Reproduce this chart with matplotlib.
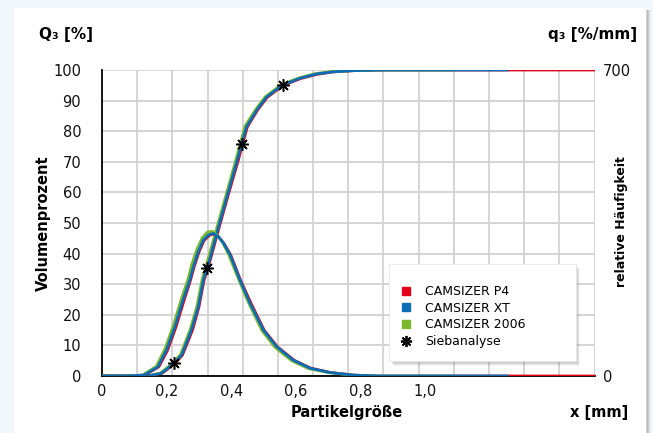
import matplotlib
matplotlib.use("Agg")
import matplotlib.pyplot as plt  # noqa: E402
from matplotlib.lines import Line2D  # noqa: E402
from matplotlib.patches import Rectangle  # noqa: E402

W, H = 653, 433
RED, BLUE, GREEN = "#e2001a", "#0b6db3", "#7cb82f"

# Summenverteilung Q3 [%]
cum_x_blue = [0, 0.108, 0.152, 0.184, 0.223, 0.247, 0.277, 0.298, 0.314, 0.333, 0.361, 0.390, 0.419,
              0.432, 0.448, 0.479, 0.509, 0.559, 0.613, 0.664, 0.715, 0.780, 0.867, 0.975, 1.084, 1.255]
cum_blue = [0, 0, 0.2, 0.9, 4.1, 6.9, 15, 22.6, 31.4, 37.9, 48.8, 59.7, 70.6,
            75.8, 81.5, 86.9, 91.1, 95.1, 97.3, 98.7, 99.4, 99.8, 100, 100, 100, 100]
cum_x_green = [0, 0.108, 0.147, 0.180, 0.219, 0.243, 0.273, 0.294, 0.310, 0.328, 0.357, 0.386, 0.415,
               0.428, 0.443, 0.475, 0.505, 0.555, 0.609, 0.660, 0.711, 0.776, 0.867, 0.975, 1.084]
cum_green = [0, 0, 0.2, 0.9, 4.2, 7.0, 15.2, 22.8, 31.6, 38.1, 49.0, 59.9, 70.8,
             76.0, 81.7, 87.0, 91.2, 95.2, 97.4, 98.8, 99.5, 99.8, 100, 100, 100]
cum_x_red = [0, 0.108, 0.154, 0.186, 0.225, 0.249, 0.280, 0.300, 0.316, 0.335, 0.363, 0.392, 0.422,
             0.435, 0.450, 0.481, 0.511, 0.561, 0.615, 0.666, 0.717, 0.782, 0.867, 0.975, 1.084, 1.3, 1.525]
cum_red = [0, 0, 0.2, 0.9, 4.0, 6.8, 14.9, 22.5, 31.3, 37.8, 48.7, 59.6, 70.5,
           75.7, 81.4, 86.8, 91.0, 95.0, 97.2, 98.6, 99.4, 99.8, 100, 100, 100, 100, 100]

# Dichteverteilung q3 [%/mm]
dens_x_blue = [0, 0.076, 0.130, 0.173, 0.200, 0.226, 0.251, 0.272, 0.283, 0.298, 0.314, 0.330, 0.345, 0.360,
               0.376, 0.397, 0.427, 0.458, 0.500, 0.541, 0.593, 0.644, 0.705, 0.778, 0.851, 0.975, 1.084, 1.255]
dens_blue = [0, 0, 2, 21, 60, 113, 174, 220, 250, 284, 311, 323, 326, 319,
             304, 277, 220, 167, 105, 67, 36, 18, 8, 2, 0, 0, 0, 0]
dens_x_green = [0, 0.076, 0.125, 0.168, 0.195, 0.221, 0.246, 0.267, 0.277, 0.293, 0.310, 0.326, 0.341, 0.357,
                0.373, 0.392, 0.423, 0.454, 0.495, 0.535, 0.587, 0.639, 0.700, 0.774, 0.845, 0.975, 1.084]
dens_green = [0, 0, 2, 22, 62, 116, 177, 223, 253, 288, 316, 329, 331, 322,
              306, 278, 221, 167, 104, 66, 35, 17, 8, 2, 0, 0, 0]
dens_x_red = [0, 0.076, 0.132, 0.176, 0.203, 0.229, 0.254, 0.274, 0.285, 0.300, 0.316, 0.333, 0.347, 0.362,
              0.378, 0.399, 0.429, 0.461, 0.502, 0.543, 0.595, 0.646, 0.708, 0.780, 0.853, 0.975, 1.084, 1.3, 1.525]
dens_red = [0, 0, 2, 21, 59, 112, 173, 219, 249, 283, 310, 322, 325, 318,
            303, 276, 219, 167, 105, 67, 36, 18, 8, 2, 0, 0, 0, 0, 0]

# Siebanalyse
sieve_x = [0.223, 0.324, 0.432, 0.559]
sieve_q3 = [4.1, 35.4, 75.8, 95.1]

x_max = 1.525
x_ticks = [0, 0.2, 0.4, 0.6, 0.8, 1.0]
x_ticklabels = ["0", "0,2", "0,4", "0,6", "0,8", "1,0"]
y_ticks = list(range(0, 101, 10))
legend_labels = ["CAMSIZER P4", "CAMSIZER XT", "CAMSIZER 2006", "Siebanalyse"]

plt.rcParams["font.family"] = ["DejaVu Sans"]
fig = plt.figure(figsize=(W / 100, H / 100), dpi=100, facecolor="#f2f7fb")


def px_rect(x0, y0, x1, y1, z, **kw):
    fig.patches.append(Rectangle((x0 / W, 1 - y1 / H), (x1 - x0) / W, (y1 - y0) / H,
                                 transform=fig.transFigure, figure=fig, zorder=z, **kw))


# white panel with soft shadow on the right
for i, a in enumerate([0.35, 0.25, 0.15, 0.08]):
    px_rect(646 + i, 10, 648 + i, H, -3, facecolor="#888888", edgecolor="none", alpha=a)
px_rect(14, 8, 646, H, -2, facecolor="white", edgecolor="none")

ax = fig.add_axes([102 / W, 1 - 376 / H, (594.5 - 102) / W, (376 - 70) / H])
ax.set_facecolor("none")
ax.set_xlim(0, x_max)
ax.set_ylim(0, 100)
# the vertical grid divides the plot width into 14 equal fields
ax.set_xticks([i * x_max / 14 for i in range(15)], minor=True)
ax.set_xticks(x_ticks)
ax.set_xticklabels(x_ticklabels)
ax.set_yticks(y_ticks)
ax.grid(True, which="minor", axis="x", color="#d2d2d2", lw=1.3)
ax.grid(True, which="major", axis="y", color="#d2d2d2", lw=1.3)
ax.set_axisbelow(True)
ax.tick_params(axis="both", which="both", length=0, labelsize=10.5, colors="#111111")
ax.tick_params(axis="y", pad=15)
ax.tick_params(axis="x", pad=6)
for s in ["top", "right"]:
    ax.spines[s].set_visible(False)
for s in ["left", "bottom"]:
    ax.spines[s].set_color("black")
    ax.spines[s].set_linewidth(1.3)

ax.plot(cum_x_red, cum_red, color=RED, lw=2.0, zorder=3)
ax.plot(cum_x_green, cum_green, color=GREEN, lw=2.0, zorder=4)
ax.plot(cum_x_blue, cum_blue, color=BLUE, lw=2.0, zorder=5)

ax2 = ax.twinx()
ax2.set_ylim(0, 700)
ax2.set_yticks([0, 700])
ax2.tick_params(axis="y", length=0, labelsize=10.5, pad=6, colors="#111111")
for s in ax2.spines.values():
    s.set_visible(False)
ax2.plot(dens_x_red, dens_red, color=RED, lw=2.0, zorder=3)
ax2.plot(dens_x_green, dens_green, color=GREEN, lw=2.0, zorder=4)
ax2.plot(dens_x_blue, dens_blue, color=BLUE, lw=2.0, zorder=5)
ax2.plot(sieve_x, [v * 7 for v in sieve_q3], linestyle="none", marker=(8, 2, 0),
         markersize=9, mec="black", mew=1.1, zorder=6)

# legend box with shadow
for i, a in enumerate([0.18, 0.12, 0.07]):
    px_rect(392 + i, 267 + i, 578 + i, 364 + i, 10, facecolor="#777777", edgecolor="none", alpha=a)
px_rect(389, 264, 576, 361, 11, facecolor="white", edgecolor="#e6e6e6", lw=0.6)

handles = [
    Line2D([], [], color=RED, marker="s", linestyle="none", markersize=6),
    Line2D([], [], color=BLUE, marker="s", linestyle="none", markersize=6),
    Line2D([], [], color=GREEN, marker="s", linestyle="none", markersize=6),
    Line2D([], [], color="black", marker=(8, 2, 0), linestyle="none", markersize=8, mew=1.3),
]
leg = fig.legend(handles, legend_labels, loc="upper left",
                 bbox_to_anchor=(400 / W, 1 - 285 / H), bbox_transform=fig.transFigure,
                 frameon=False, fontsize=9, handlelength=1.0, handletextpad=1.0,
                 labelspacing=0.3, borderpad=0, borderaxespad=0)
leg.set_zorder(12)

# axis titles
fig.text(39 / W, 1 - 35 / H, "Q₃ [%]", fontsize=11, fontweight="bold", ha="left", va="center")
fig.text(637 / W, 1 - 35 / H, "q₃ [%/mm]", fontsize=11, fontweight="bold", ha="right", va="center")
fig.text(43 / W, 1 - 223 / H, "Volumenprozent", fontsize=10.5, fontweight="bold",
         rotation=90, ha="center", va="center")
fig.text(622 / W, 1 - 222 / H, "relative Häufigkeit", fontsize=9, fontweight="bold",
         rotation=90, ha="center", va="center")
fig.text(347 / W, 1 - 412 / H, "Partikelgröße", fontsize=10.5, fontweight="bold",
         ha="center", va="center")
fig.text(628 / W, 1 - 412 / H, "x [mm]", fontsize=10.5, fontweight="bold",
         ha="right", va="center")

fig.savefig("out.png", dpi=100, facecolor=fig.get_facecolor())
